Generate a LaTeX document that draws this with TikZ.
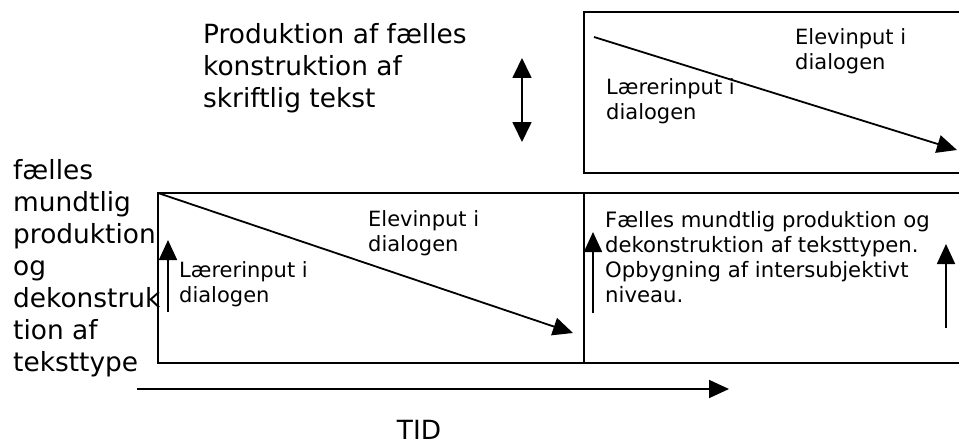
\documentclass[tikz,border=0pt]{standalone}
\usepackage{fontspec}
\setmainfont{DejaVu Sans}
\usetikzlibrary{arrows.meta}

\tikzset{
  frame/.style={line width=1.5pt},
  flow/.style={line width=1.8pt, -{Triangle[length=20pt,width=18pt]}},
  twoway/.style={line width=1.8pt, {Triangle[length=20pt,width=19pt]}-{Triangle[length=20pt,width=19pt]}},
  txt/.style={inner sep=0pt, anchor=base west},
  bigfont/.style={font=\fontsize{26.4}{32}\selectfont},
  smallfont/.style={font=\fontsize{21}{25}\selectfont},
  midfont/.style={font=\fontsize{21.2}{25}\selectfont},
}

\newcommand{\lines}[1]{\begin{tabular}[t]{@{}l@{}}#1\end{tabular}}

\begin{document}
\begin{tikzpicture}[x=1pt, y=-1pt]
  \useasboundingbox (0,0) rectangle (959,444);
  \clip (0,0) rectangle (959,444);

  % written phase: upper box
  \draw[frame] (584,12) rectangle (965,173);
  \coordinate (wA) at (594,37);
  \coordinate (wB) at (957,150);
  \draw[flow] (wA) -- (wB);
  \node[txt, smallfont] (wElev) at (795,45) {\lines{Elevinput i\\dialogen}};
  \node[txt, smallfont] (wLaer) at (606,95) {\lines{Lærerinput i\\dialogen}};

  % heading of the written phase and the link between the phases
  \node[txt, bigfont] (prod) at (203,44) {\lines{Produktion af fælles\\konstruktion af\\skriftlig tekst}};
  \coordinate (dUp) at (522,58);
  \coordinate (dDown) at (522,142);
  \draw[twoway] (dUp) -- (dDown);

  % oral phase: lower boxes
  \draw[frame] (158,193) rectangle (965,363);
  \coordinate (midTop) at (584,193);
  \coordinate (midBot) at (584,363);
  \draw[frame] (midTop) -- (midBot);

  \node[txt, bigfont] (oral) at (13,179) {\lines{fælles\\mundtlig\\produktion\\og\\dekonstruk\\tion af\\teksttype}};

  \coordinate (oA) at (158,193);
  \coordinate (oB) at (573,333);
  \draw[flow] (oA) -- (oB);
  \node[txt, smallfont] (oElev) at (368,226) {\lines{Elevinput i\\dialogen}};
  \node[txt, smallfont] (oLaer) at (179,277) {\lines{Lærerinput i\\dialogen}};

  \coordinate (u1a) at (168,312);
  \coordinate (u1b) at (168,240);
  \draw[flow] (u1a) -- (u1b);
  \coordinate (u2a) at (593,313);
  \coordinate (u2b) at (593,232);
  \draw[flow] (u2a) -- (u2b);
  \coordinate (u3a) at (946,328);
  \coordinate (u3b) at (946,244);
  \draw[flow] (u3a) -- (u3b);

  \node[txt, midfont] (fmp) at (605,227) {\lines{Fælles mundtlig produktion og\\dekonstruktion af teksttypen.\\Opbygning af intersubjektivt\\niveau.}};

  % time axis
  \coordinate (t0) at (137,389);
  \coordinate (t1) at (729,389);
  \draw[flow] (t0) -- (t1);
  \node[inner sep=0pt, anchor=base, bigfont] (tid) at (419,439) {TID};
\end{tikzpicture}
\end{document}
